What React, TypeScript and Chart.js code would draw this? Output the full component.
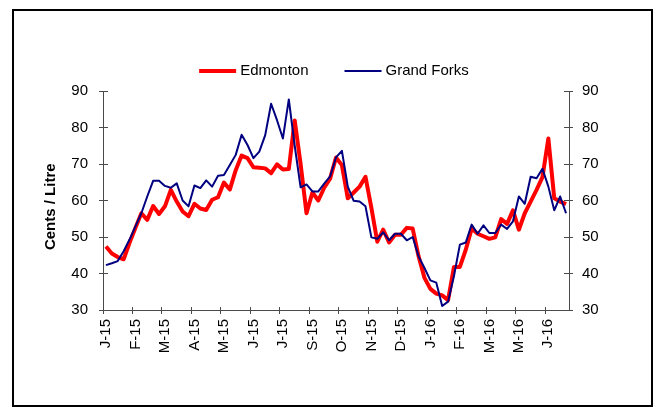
import React, { useEffect, useRef } from 'react';
import { Chart, registerables } from 'chart.js';

Chart.register(...registerables);

// Month tick labels, one every five weekly categories
const monthTicks = ['J-15', 'F-15', 'M-15', 'A-15', 'M-15', 'J-15', 'J-15', 'S-15', 'O-15', 'N-15', 'D-15', 'J-16', 'F-16', 'M-16', 'M-16', 'J-16'];
const weeksPerTick = 5;

// Weekly prices (cents / litre)
const edmonton = [
  47.4, 45.5, 44.5, 43.9, 48.4, 52.5, 56.5, 54.7, 58.5, 56.3,
  58.4, 62.9, 59.7, 57.0, 55.7, 59.1, 57.8, 57.4, 60.2, 60.9,
  64.9, 63.0, 68.3, 72.3, 71.6, 69.1, 69.0, 68.8, 67.5, 69.9,
  68.5, 68.6, 81.9, 70.0, 56.5, 62.2, 60.0, 63.5, 66.0, 71.8,
  69.7, 60.6, 62.2, 63.8, 66.5, 58.0, 48.7, 52.0, 48.5, 50.6,
  50.6, 52.5, 52.3, 44.7, 38.8, 35.8, 34.5, 34.0, 32.7, 41.8,
  41.8, 46.5, 52.3, 50.9, 50.2, 49.5, 49.9, 54.9, 53.6, 57.3,
  52.0, 56.5, 59.7, 62.9, 66.4, 77.0, 60.6, 59.7, 59.0,
];

const grandForks = [
  42.3, 42.8, 43.4, 46.1, 49.3, 52.9, 56.5, 61.1, 65.4, 65.4,
  64.0, 63.5, 64.7, 60.0, 58.4, 64.1, 63.4, 65.5, 63.8, 66.8,
  67.0, 69.7, 72.5, 78.0, 75.2, 71.6, 73.4, 77.9, 86.5, 82.0,
  77.0, 87.7, 75.0, 63.6, 64.4, 62.5, 62.5, 64.6, 66.6, 71.8,
  73.6, 63.8, 59.9, 59.7, 58.4, 49.9, 49.5, 51.3, 49.1, 50.9,
  50.9, 49.1, 50.0, 44.7, 41.5, 38.1, 37.5, 31.1, 32.3, 39.3,
  47.9, 48.5, 53.4, 50.9, 53.2, 51.1, 51.1, 53.4, 52.2, 54.3,
  61.1, 59.1, 66.5, 66.1, 68.7, 63.8, 57.3, 61.1, 56.5,
];

const categories = edmonton.map((_, i) =>
  i % weeksPerTick === 0 ? (monthTicks[i / weeksPerTick] ?? '') : ''
);

const Y_MIN = 30;
const Y_MAX = 90;
const Y_STEP = 10;
const AXIS_COLOR = '#4a4a4a';
const FONT_FAMILY = "'Liberation Sans', Arial, Helvetica, sans-serif";

const align = (p: number) => Math.round(p - 0.5) + 0.5;

const tickMarksPlugin = {
  id: 'crossTickMarks',
  afterDraw(chart: any) {
    const { ctx, chartArea, scales } = chart;
    const xs = scales.x;
    const ys = scales.y;
    ctx.save();
    ctx.strokeStyle = AXIS_COLOR;
    ctx.lineWidth = 1;
    ctx.beginPath();
    categories.forEach((lab, i) => {
      if (!lab) return;
      const px = align(xs.getPixelForValue(i - 0.5));
      ctx.moveTo(px, chartArea.bottom - 3);
      ctx.lineTo(px, chartArea.bottom + 4);
    });
    ys.ticks.forEach((t: any) => {
      const py = align(ys.getPixelForValue(t.value));
      ctx.moveTo(chartArea.left - 4, py);
      ctx.lineTo(chartArea.left + 5, py);
      ctx.moveTo(chartArea.right - 5, py);
      ctx.lineTo(chartArea.right + 4, py);
    });
    ctx.stroke();
    ctx.restore();
  },
};

// Legend drawn as line samples from the chart's own datasets
const LEGEND_CENTER_X = 334;
const LEGEND_Y = 71;
const LEGEND_LINE = 37;
const LEGEND_TEXT_GAP = 4;
const LEGEND_ITEM_GAP = 36;

const lineLegendPlugin = {
  id: 'lineLegend',
  afterDraw(chart: any) {
    const { ctx } = chart;
    const items = chart.data.datasets;
    ctx.save();
    ctx.font = `15px ${FONT_FAMILY}`;
    ctx.textBaseline = 'middle';
    ctx.textAlign = 'left';
    const widths = items.map((d: any) => LEGEND_LINE + LEGEND_TEXT_GAP + ctx.measureText(d.label).width);
    const total = widths.reduce((a: number, b: number) => a + b, 0) + LEGEND_ITEM_GAP * (items.length - 1);
    let x = LEGEND_CENTER_X - total / 2;
    items.forEach((d: any, i: number) => {
      ctx.strokeStyle = d.borderColor;
      ctx.lineWidth = d.borderWidth;
      ctx.lineCap = 'butt';
      ctx.beginPath();
      ctx.moveTo(x, LEGEND_Y);
      ctx.lineTo(x + LEGEND_LINE, LEGEND_Y);
      ctx.stroke();
      ctx.fillStyle = '#000';
      ctx.fillText(d.label, x + LEGEND_LINE + LEGEND_TEXT_GAP, LEGEND_Y);
      x += widths[i] + LEGEND_ITEM_GAP;
    });
    ctx.restore();
  },
};

export default function App() {
  const canvasRef = useRef<HTMLCanvasElement | null>(null);

  useEffect(() => {
    if (!canvasRef.current) return;
    Chart.defaults.font.family = FONT_FAMILY;
    Chart.defaults.font.size = 15;
    Chart.defaults.color = '#000';

    const chart = new Chart(canvasRef.current, {
      type: 'line',
      data: {
        labels: categories,
        datasets: [
          {
            label: 'Edmonton',
            data: edmonton,
            borderColor: '#ff0000',
            backgroundColor: '#ff0000',
            borderWidth: 4,
            pointRadius: 0,
            tension: 0,
            borderJoinStyle: 'round',
            order: 1,
          },
          {
            label: 'Grand Forks',
            data: grandForks,
            borderColor: '#000080',
            backgroundColor: '#000080',
            borderWidth: 2,
            pointRadius: 0,
            tension: 0,
            borderJoinStyle: 'round',
            order: 0,
          },
        ],
      },
      options: {
        responsive: false,
        animation: false,
        devicePixelRatio: 1,
        layout: { padding: { left: 38, right: 26, top: 91, bottom: 0 } },
        plugins: {
          legend: { display: false },
          tooltip: { enabled: false },
        },
        scales: {
          x: {
            type: 'category',
            offset: true,
            grid: { display: true, drawOnChartArea: false, drawTicks: false },
            border: { display: true, color: AXIS_COLOR, width: 1 },
            ticks: {
              autoSkip: false,
              maxRotation: 90,
              minRotation: 90,
              padding: 9,
              color: '#000',
              font: { size: 15, family: FONT_FAMILY },
            },
            afterFit: (scale: any) => {
              scale.height = 97;
            },
          },
          y: {
            position: 'left',
            min: Y_MIN,
            max: Y_MAX,
            grid: { display: true, drawOnChartArea: false, drawTicks: false },
            border: { display: true, color: AXIS_COLOR, width: 1 },
            ticks: {
              stepSize: Y_STEP,
              padding: 15,
              color: '#000',
              font: { size: 15, family: FONT_FAMILY },
            },
            title: {
              display: true,
              text: 'Cents / Litre   ',
              color: '#000',
              font: { size: 15, weight: 'bold', family: FONT_FAMILY },
            },
            afterFit: (scale: any) => {
              scale.width = 65;
            },
          },
          y2: {
            position: 'right',
            min: Y_MIN,
            max: Y_MAX,
            grid: { display: true, drawOnChartArea: false, drawTicks: false },
            border: { display: true, color: AXIS_COLOR, width: 1 },
            ticks: {
              stepSize: Y_STEP,
              padding: 13,
              color: '#000',
              font: { size: 15, family: FONT_FAMILY },
            },
            afterFit: (scale: any) => {
              scale.width = 61;
            },
          },
        },
      },
      plugins: [tickMarksPlugin, lineLegendPlugin],
    } as any);

    return () => {
      chart.destroy();
    };
  }, []);

  return (
    <div style={{ position: 'absolute', left: 0, top: 0, width: 656, height: 407, background: '#fff' }}>
      <canvas ref={canvasRef} width={656} height={407} style={{ display: 'block', width: 656, height: 407 }} />
      <div
        style={{
          position: 'absolute',
          left: 12,
          top: 9,
          width: 641,
          height: 398,
          border: '2px solid #000',
          boxSizing: 'border-box',
          pointerEvents: 'none',
        }}
      />
    </div>
  );
}
